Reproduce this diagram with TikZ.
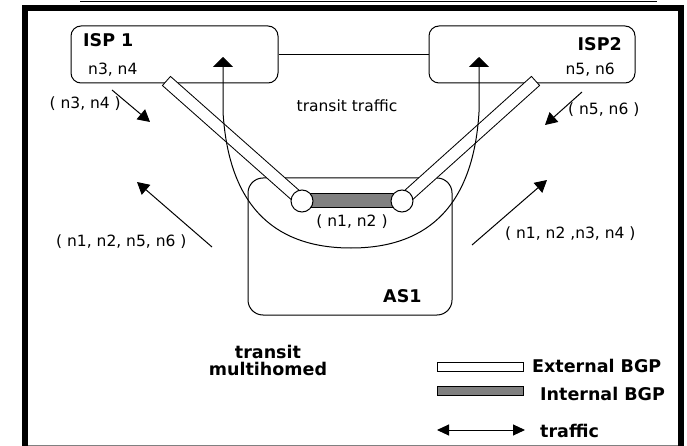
\documentclass[tikz,border=0pt]{standalone}
\usepackage{fontspec}
\setmainfont{DejaVu Sans}
\usepackage{tikz}
\usetikzlibrary{arrows.meta}

\newcommand{\netlabel}{\fontsize{15.5}{18}\selectfont}
\newcommand{\netbold}{\fontsize{17.5}{17}\selectfont\bfseries}

\tikzstyle{isp} = [rectangle, rounded corners=10pt,
minimum width=207pt,
minimum height=57pt,
draw=black,
line width=1pt]
\tikzstyle{asbox} = [rectangle, rounded corners=15pt,
minimum width=204pt,
minimum height=137pt,
draw=black,
line width=1pt]
\tikzstyle{peer} = [circle, minimum size=22pt, inner sep=0pt,
draw=black, fill=white, line width=1pt]
\tikzstyle{txt} = [inner sep=0pt, font=\netlabel]
\tikzstyle{boldtxt} = [inner sep=0pt, font=\netbold, align=center]
\tikzstyle{ebgpout} = [line width=13pt, line cap=rect, draw=black]
\tikzstyle{ebgpin} = [line width=11pt, line cap=rect, draw=white]
\tikzstyle{ibgpout} = [line width=15pt, draw=black]
\tikzstyle{ibgpin} = [line width=13pt, draw=black!50]
\tikzstyle{keybox} = [rectangle, draw=black, line width=1pt,
minimum width=86pt, minimum height=9pt, inner sep=0pt]
\tikzstyle{route} = [line width=1pt, -{Triangle[length=12pt, width=13pt]}]
\tikzstyle{traffic} = [line width=1pt,
{Triangle[length=10pt, width=20pt]}-{Triangle[length=10pt, width=20pt]}]
\tikzstyle{keyarrow} = [line width=1pt,
{Triangle[length=12pt, width=11pt]}-{Triangle[length=12pt, width=11pt]}]

\begin{document}
\begin{tikzpicture}[x=1pt, y=-1pt]
\useasboundingbox (0,0) rectangle (687,446);

% frame
\draw [line width=1.5pt] (80,1.5) -- (657,1.5);
\draw [line width=6pt] (25,470) -- (25,8) -- (681,8) -- (681,470);
\draw [gray, line width=1pt] (28,445) -- (678,445);

% autonomous systems
\node (isp1) [isp] at (174.5,54.5) {};
\node (isp2) [isp, minimum width=206pt] at (532,54.5) {};
\node (as1) [asbox] at (350,246.5) {};
\draw [line width=1pt] (isp1.east) -- (isp2.west);

% external BGP
\coordinate (c1) at (302,201);
\coordinate (c2) at (402,201);
\coordinate (e1) at (171,85);
\coordinate (e2) at (531,85);
\draw [ebgpout] (e1) -- (c1);
\draw [ebgpin] (e1) -- (c1);
\draw [ebgpout] (e2) -- (c2);
\draw [ebgpin] (e2) -- (c2);

% internal BGP
\draw [ibgpout] (c1) -- (c2);
\draw [ibgpin] (c1) -- (c2);
\node (n1) [peer] at (c1) {};
\node (n2) [peer] at (c2) {};

% transit traffic
\coordinate (t1) at (223,57);
\coordinate (t2) at (479,57);
\draw [traffic] (t1) -- (223,112) .. controls (229,212) and (280,248) .. (351,248)
  .. controls (422,248) and (473,212) .. (479,112) -- (t2);

% labels
\node (isp1name) [boldtxt, anchor=base west] at (83,47) {ISP 1};
\node (isp1nets) [txt, anchor=base west] at (88,75) {n3, n4};
\node (isp2name) [boldtxt, anchor=base east] at (622,51) {ISP2};
\node (isp2nets) [txt, anchor=base east] at (615,75) {n5, n6};
\node (as1name) [boldtxt, anchor=base west] at (383,302) {AS1};
\node (ibgpnets) [txt, anchor=base] at (352,226) {( n1, n2 )};
\node (transit) [txt, anchor=base] at (347,112) {transit traffic};

% announced routes
\coordinate (r1a) at (112,90);
\coordinate (r1b) at (150,122);
\coordinate (r2a) at (582,92);
\coordinate (r2b) at (545,125);
\coordinate (r3a) at (212,247);
\coordinate (r3b) at (137,182);
\coordinate (r4a) at (472,245);
\coordinate (r4b) at (547,180);
\draw [route] (r1a) -- (r1b);
\draw [route] (r2a) -- (r2b);
\draw [route] (r3a) -- (r3b);
\draw [route] (r4a) -- (r4b);
\node (r1) [txt, anchor=base east] at (121,109) {( n3, n4 )};
\node (r2) [txt, anchor=base west] at (568,115) {( n5, n6 )};
\node (r3) [txt, anchor=base west] at (56,246) {( n1, n2, n5, n6 )};
\node (r4) [txt, anchor=base west] at (505,238) {( n1, n2 ,n3, n4 )};

% legend
\node (kind) [boldtxt] at (268,360) {transit\\multihomed};
\node (extkey) [keybox] at (480,366.5) {};
\node (intkey) [keybox, fill=black!50] at (480,390.5) {};
\coordinate (k1) at (437,430);
\coordinate (k2) at (525,430);
\draw [keyarrow] (k1) -- (k2);
\node (extname) [boldtxt, anchor=base west] at (532,372) {External BGP};
\node (intname) [boldtxt, anchor=base west] at (540,400) {Internal BGP};
\node (trafname) [boldtxt, anchor=base west] at (540,437) {traffic};

\end{tikzpicture}
\end{document}
